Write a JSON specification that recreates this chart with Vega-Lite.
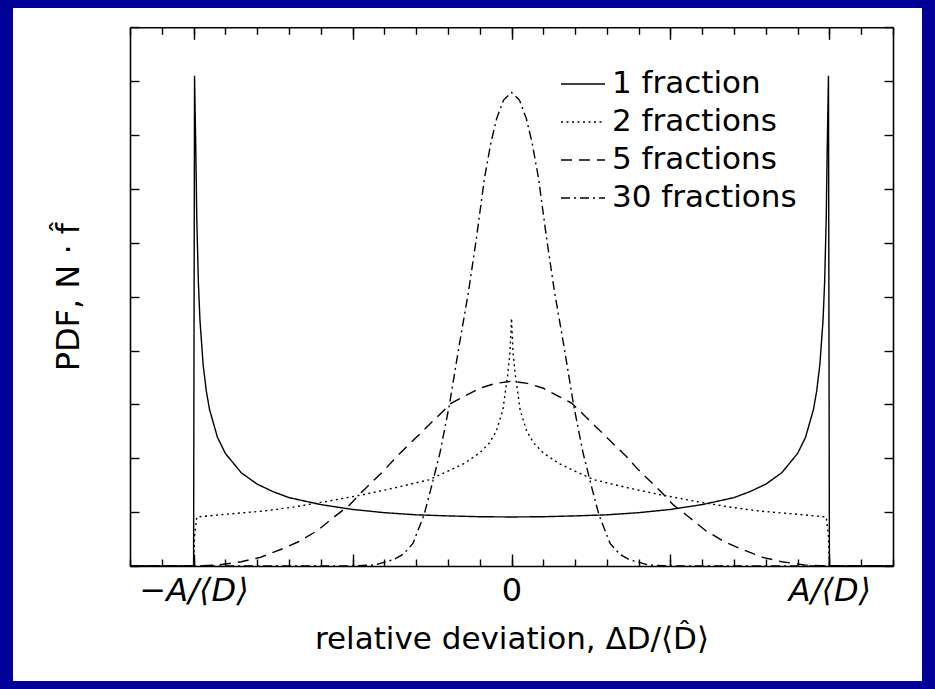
{
"$schema": "https://vega.github.io/schema/vega-lite/v6.json",
"width": 909, "height": 673,
"autosize": {"type": "none"},
"padding": {"left": 13, "top": 8, "right": 13, "bottom": 8},
"background": "#000099",
"datasets": {"curves": [
{"s":"1 fraction","x":-1.2,"y":0},{"s":"1 fraction","x":-1.0,"y":0},{"s":"1 fraction","x":-0.997,"y":9.1},{"s":"1 fraction","x":-0.993,"y":7.72},{"s":"1 fraction","x":-0.99,"y":6.46},{"s":"1 fraction","x":-0.985,"y":5.28},{"s":"1 fraction","x":-0.98,"y":4.57},{"s":"1 fraction","x":-0.97,"y":3.74},{"s":"1 fraction","x":-0.96,"y":3.25},{"s":"1 fraction","x":-0.95,"y":2.91},{"s":"1 fraction","x":-0.925,"y":2.39},{"s":"1 fraction","x":-0.9,"y":2.09},{"s":"1 fraction","x":-0.85,"y":1.73},{"s":"1 fraction","x":-0.8,"y":1.52},{"s":"1 fraction","x":-0.75,"y":1.38},{"s":"1 fraction","x":-0.7,"y":1.27},{"s":"1 fraction","x":-0.6,"y":1.14},{"s":"1 fraction","x":-0.5,"y":1.05},{"s":"1 fraction","x":-0.4,"y":0.99},{"s":"1 fraction","x":-0.3,"y":0.95},{"s":"1 fraction","x":-0.2,"y":0.93},{"s":"1 fraction","x":-0.1,"y":0.915},{"s":"1 fraction","x":0,"y":0.91},
{"s":"1 fraction","x":0.1,"y":0.915},{"s":"1 fraction","x":0.2,"y":0.93},{"s":"1 fraction","x":0.3,"y":0.95},{"s":"1 fraction","x":0.4,"y":0.99},{"s":"1 fraction","x":0.5,"y":1.05},{"s":"1 fraction","x":0.6,"y":1.14},{"s":"1 fraction","x":0.7,"y":1.27},{"s":"1 fraction","x":0.75,"y":1.38},{"s":"1 fraction","x":0.8,"y":1.52},{"s":"1 fraction","x":0.85,"y":1.73},{"s":"1 fraction","x":0.9,"y":2.09},{"s":"1 fraction","x":0.925,"y":2.39},{"s":"1 fraction","x":0.95,"y":2.91},{"s":"1 fraction","x":0.96,"y":3.25},{"s":"1 fraction","x":0.97,"y":3.74},{"s":"1 fraction","x":0.98,"y":4.57},{"s":"1 fraction","x":0.985,"y":5.28},{"s":"1 fraction","x":0.99,"y":6.46},{"s":"1 fraction","x":0.993,"y":7.72},{"s":"1 fraction","x":0.997,"y":9.1},{"s":"1 fraction","x":1.0,"y":0},{"s":"1 fraction","x":1.2,"y":0},

{"s":"2 fractions","x":-1.2,"y":0},{"s":"2 fractions","x":-1.0,"y":0},{"s":"2 fractions","x":-0.997,"y":0.55},{"s":"2 fractions","x":-0.99,"y":0.91},{"s":"2 fractions","x":-0.9,"y":0.96},{"s":"2 fractions","x":-0.78,"y":1.02},{"s":"2 fractions","x":-0.68,"y":1.1},{"s":"2 fractions","x":-0.57,"y":1.21},{"s":"2 fractions","x":-0.47,"y":1.32},{"s":"2 fractions","x":-0.36,"y":1.46},{"s":"2 fractions","x":-0.26,"y":1.6},{"s":"2 fractions","x":-0.2,"y":1.76},{"s":"2 fractions","x":-0.15,"y":1.9},{"s":"2 fractions","x":-0.1,"y":2.1},{"s":"2 fractions","x":-0.07,"y":2.28},{"s":"2 fractions","x":-0.048,"y":2.5},{"s":"2 fractions","x":-0.027,"y":2.9},{"s":"2 fractions","x":-0.012,"y":3.55},{"s":"2 fractions","x":-0.005,"y":3.95},{"s":"2 fractions","x":0,"y":4.6},
{"s":"2 fractions","x":0.005,"y":3.95},{"s":"2 fractions","x":0.012,"y":3.55},{"s":"2 fractions","x":0.027,"y":2.9},{"s":"2 fractions","x":0.048,"y":2.5},{"s":"2 fractions","x":0.07,"y":2.28},{"s":"2 fractions","x":0.1,"y":2.1},{"s":"2 fractions","x":0.15,"y":1.9},{"s":"2 fractions","x":0.2,"y":1.76},{"s":"2 fractions","x":0.26,"y":1.6},{"s":"2 fractions","x":0.36,"y":1.46},{"s":"2 fractions","x":0.47,"y":1.32},{"s":"2 fractions","x":0.57,"y":1.21},{"s":"2 fractions","x":0.68,"y":1.1},{"s":"2 fractions","x":0.78,"y":1.02},{"s":"2 fractions","x":0.9,"y":0.96},{"s":"2 fractions","x":0.99,"y":0.91},{"s":"2 fractions","x":0.997,"y":0.55},{"s":"2 fractions","x":1.0,"y":0},{"s":"2 fractions","x":1.2,"y":0},

{"s":"5 fractions","x":-1.2,"y":0},{"s":"5 fractions","x":-1.0,"y":0},{"s":"5 fractions","x":-0.92,"y":0.02},{"s":"5 fractions","x":-0.85,"y":0.08},{"s":"5 fractions","x":-0.79,"y":0.16},{"s":"5 fractions","x":-0.72,"y":0.32},{"s":"5 fractions","x":-0.67,"y":0.45},{"s":"5 fractions","x":-0.61,"y":0.66},{"s":"5 fractions","x":-0.56,"y":0.9},{"s":"5 fractions","x":-0.51,"y":1.13},{"s":"5 fractions","x":-0.47,"y":1.38},{"s":"5 fractions","x":-0.4,"y":1.78},{"s":"5 fractions","x":-0.36,"y":2.04},{"s":"5 fractions","x":-0.28,"y":2.5},{"s":"5 fractions","x":-0.19,"y":3.02},{"s":"5 fractions","x":-0.1,"y":3.3},{"s":"5 fractions","x":-0.05,"y":3.39},{"s":"5 fractions","x":0,"y":3.43},
{"s":"5 fractions","x":0.05,"y":3.39},{"s":"5 fractions","x":0.1,"y":3.3},{"s":"5 fractions","x":0.19,"y":3.02},{"s":"5 fractions","x":0.28,"y":2.5},{"s":"5 fractions","x":0.36,"y":2.04},{"s":"5 fractions","x":0.4,"y":1.78},{"s":"5 fractions","x":0.47,"y":1.38},{"s":"5 fractions","x":0.51,"y":1.13},{"s":"5 fractions","x":0.56,"y":0.9},{"s":"5 fractions","x":0.61,"y":0.66},{"s":"5 fractions","x":0.67,"y":0.45},{"s":"5 fractions","x":0.72,"y":0.32},{"s":"5 fractions","x":0.79,"y":0.16},{"s":"5 fractions","x":0.85,"y":0.08},{"s":"5 fractions","x":0.92,"y":0.02},{"s":"5 fractions","x":1.0,"y":0},{"s":"5 fractions","x":1.2,"y":0},

{"s":"30 fractions","x":-1.2,"y":0},{"s":"30 fractions","x":-0.5,"y":0},{"s":"30 fractions","x":-0.43,"y":0.02},{"s":"30 fractions","x":-0.37,"y":0.12},{"s":"30 fractions","x":-0.34,"y":0.22},{"s":"30 fractions","x":-0.31,"y":0.42},{"s":"30 fractions","x":-0.275,"y":0.95},{"s":"30 fractions","x":-0.255,"y":1.4},{"s":"30 fractions","x":-0.225,"y":2.1},{"s":"30 fractions","x":-0.195,"y":3.0},{"s":"30 fractions","x":-0.165,"y":4.08},{"s":"30 fractions","x":-0.135,"y":5.1},{"s":"30 fractions","x":-0.11,"y":6.1},{"s":"30 fractions","x":-0.085,"y":7.2},{"s":"30 fractions","x":-0.065,"y":7.85},{"s":"30 fractions","x":-0.047,"y":8.3},{"s":"30 fractions","x":-0.025,"y":8.65},{"s":"30 fractions","x":0,"y":8.79},
{"s":"30 fractions","x":0.025,"y":8.65},{"s":"30 fractions","x":0.047,"y":8.3},{"s":"30 fractions","x":0.065,"y":7.85},{"s":"30 fractions","x":0.085,"y":7.2},{"s":"30 fractions","x":0.11,"y":6.1},{"s":"30 fractions","x":0.135,"y":5.1},{"s":"30 fractions","x":0.165,"y":4.08},{"s":"30 fractions","x":0.195,"y":3.0},{"s":"30 fractions","x":0.225,"y":2.1},{"s":"30 fractions","x":0.255,"y":1.4},{"s":"30 fractions","x":0.275,"y":0.95},{"s":"30 fractions","x":0.31,"y":0.42},{"s":"30 fractions","x":0.34,"y":0.22},{"s":"30 fractions","x":0.37,"y":0.12},{"s":"30 fractions","x":0.43,"y":0.02},{"s":"30 fractions","x":0.5,"y":0},{"s":"30 fractions","x":1.2,"y":0}
]},
"data": {"name": "curves"},
"layer": [
{
"mark": {"type": "line", "stroke": "#000", "strokeWidth": 1.4},
"encoding": {
"x": {"field": "x", "type": "quantitative",
"scale": {"domain": [-1.2, 1.2], "range": [117, 880], "nice": false, "zero": false},
"axis": {"orient": "bottom", "offset": -115, "values": [-1, -0.5, 0, 0.5, 1], "tickSize": -12, "domain": true,
"labelExpr": "datum.value == -1 ? '−A/⟨D⟩' : datum.value == 1 ? 'A/⟨D⟩' : datum.value == 0 ? '0' : ''",
"labelFontSize": 32, "labelPadding": 21, "labelFlush": false, "labelOverlap": false,
"labelFontStyle": {"condition": {"test": "datum.value == 0", "value": "normal"}, "value": "italic"},
"title": "relative deviation, ΔD/⟨D̂⟩", "titleFontSize": 31, "titlePadding": 18}},
"y": {"field": "y", "type": "quantitative",
"scale": {"domain": [0, 10], "range": [558, 19.3], "nice": false, "zero": false},
"axis": {"orient": "left", "offset": -117, "values": [0,1,2,3,4,5,6,7,8,9,10], "tickSize": -9, "labels": false, "domain": true,
"title": "PDF, N · f̂", "titleFontSize": 32, "titlePadding": 44}},
"strokeDash": {"field": "s", "type": "nominal",
"scale": {"domain": ["1 fraction", "2 fractions", "5 fractions", "30 fractions"], "range": [[1, 0], [2, 3.5], [11, 7], [9, 4, 2, 4]]},
"legend": {"title": null, "orient": "none", "legendX": 547, "legendY": 53, "symbolType": "stroke", "symbolSize": 1936,
"symbolStrokeWidth": 1.5, "symbolStrokeColor": "#000", "labelFontSize": 31, "labelColor": "#000", "labelOffset": 6,
"rowPadding": 0, "padding": 0, "labelLimit": 500}}
}
},
{
"mark": {"type": "point", "opacity": 0},
"encoding": {
"x": {"field": "x", "type": "quantitative",
"scale": {"domain": [-1.2, 1.2], "range": [117, 880], "nice": false, "zero": false},
"axis": {"orient": "bottom", "offset": -115, "values": [-1.2,-1.1,-1,-0.9,-0.8,-0.7,-0.6,-0.5,-0.4,-0.3,-0.2,-0.1,0,0.1,0.2,0.3,0.4,0.5,0.6,0.7,0.8,0.9,1,1.1,1.2], "tickSize": -7, "labels": false, "domain": false, "title": null}},
"y": {"field": "y", "type": "quantitative",
"scale": {"domain": [0, 10], "range": [558, 19.3], "nice": false, "zero": false},
"axis": {"orient": "right", "offset": -29, "values": [0,1,2,3,4,5,6,7,8,9,10], "tickSize": -9, "labels": false, "domain": true, "title": null}}
}
},
{
"mark": {"type": "point", "opacity": 0},
"encoding": {
"x": {"field": "x", "type": "quantitative",
"scale": {"domain": [-1.2, 1.2], "range": [117, 880], "nice": false, "zero": false},
"axis": {"orient": "top", "offset": -19.3, "values": [-1, -0.5, 0, 0.5, 1], "tickSize": -12, "labels": false, "domain": true, "title": null}},
"y": {"field": "y", "type": "quantitative", "scale": {"domain": [0, 10], "range": [558, 19.3], "nice": false, "zero": false}, "axis": null}
}
},
{
"mark": {"type": "point", "opacity": 0},
"encoding": {
"x": {"field": "x", "type": "quantitative",
"scale": {"domain": [-1.2, 1.2], "range": [117, 880], "nice": false, "zero": false},
"axis": {"orient": "top", "offset": -19.3, "values": [-1.2,-1.1,-1,-0.9,-0.8,-0.7,-0.6,-0.5,-0.4,-0.3,-0.2,-0.1,0,0.1,0.2,0.3,0.4,0.5,0.6,0.7,0.8,0.9,1,1.1,1.2], "tickSize": -7, "labels": false, "domain": false, "title": null}},
"y": {"field": "y", "type": "quantitative", "scale": {"domain": [0, 10], "range": [558, 19.3], "nice": false, "zero": false}, "axis": null}
}
}
],
"resolve": {"axis": {"x": "independent", "y": "independent"}},
"config": {
"font": "DejaVu Sans",
"view": {"fill": "#ffffff", "stroke": null},
"axis": {"grid": false, "domainColor": "#000", "tickColor": "#000", "labelColor": "#000", "titleColor": "#000", "domainWidth": 1.6, "tickWidth": 1.4, "titleFontWeight": "normal", "labelFont": "DejaVu Sans", "titleFont": "DejaVu Sans"},
"legend": {"labelFont": "DejaVu Sans"}
}
}
